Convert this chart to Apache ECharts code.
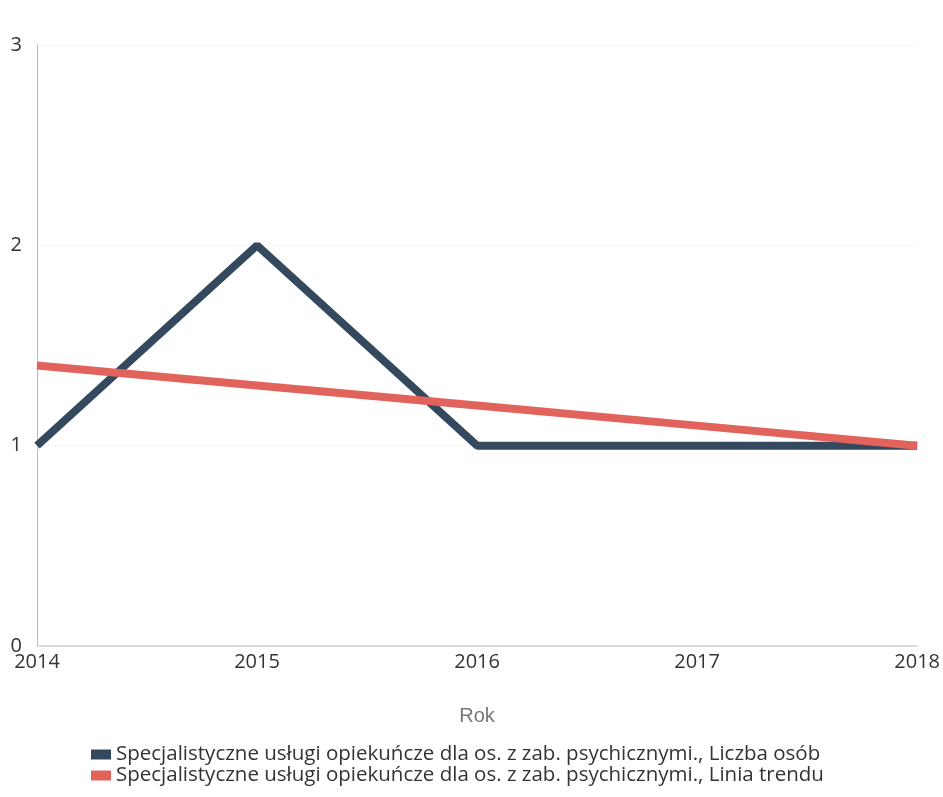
<!DOCTYPE html>
<html>
<head>
<meta charset="utf-8">
<script src="https://cdn.jsdelivr.net/npm/echarts@6/dist/echarts.min.js"></script>
<style>
html,body{margin:0;padding:0;background:#fff;}
#chart{width:943px;height:797px;}
</style>
</head>
<body>
<div id="chart"></div>
<script>
// dane
var years = ['2014', '2015', '2016', '2017', '2018'];
var liczbaOsob = [1, 2, 1, 1, 1];
var liniaTrendu = [1.4, 1.3, 1.2, 1.1, 1.0];
var nazwaOsoby = 'Specjalistyczne usługi opiekuńcze dla os. z zab. psychicznymi., Liczba osób';
var nazwaTrend = 'Specjalistyczne usługi opiekuńcze dla os. z zab. psychicznymi., Linia trendu';

var myChart = echarts.init(document.getElementById('chart'));
var option = {
    backgroundColor: '#fff',
    textStyle: { fontFamily: 'Open Sans' },
    grid: { left: 37, right: 25, top: 45, bottom: 151 },
    legend: {
        left: 86,
        top: 739,
        orient: 'vertical',
        itemGap: 0,
        itemWidth: 20,
        itemHeight: 10,
        icon: 'rect',
        textStyle: { fontSize: 20.5, lineHeight: 21, color: '#333', fontFamily: 'Open Sans' },
        data: [nazwaOsoby, nazwaTrend]
    },
    xAxis: {
        type: 'category',
        boundaryGap: false,
        data: years,
        name: 'Rok',
        nameLocation: 'middle',
        nameGap: 60,
        nameTextStyle: { fontSize: 20, color: '#777', fontFamily: 'Liberation Sans' },
        axisLine: { lineStyle: { color: '#dcdcdc', width: 2 } },
        axisTick: { show: false },
        axisLabel: { fontSize: 20, color: '#333', margin: 6 },
        splitLine: { show: false }
    },
    yAxis: {
        type: 'value',
        min: 0,
        max: 3,
        interval: 1,
        axisLine: { show: true, lineStyle: { color: '#aaa', width: 1, type: 'dotted' } },
        axisTick: { show: false },
        axisLabel: { fontSize: 20, color: '#333', margin: 15 },
        splitLine: { show: true, lineStyle: { color: '#f7f7f7' } }
    },
    series: [
        {
            name: nazwaOsoby,
            type: 'line',
            data: liczbaOsob,
            symbol: 'none',
            color: '#34495e',
            lineStyle: { width: 8, color: '#34495e' }
        },
        {
            name: nazwaTrend,
            type: 'line',
            data: liniaTrendu,
            symbol: 'none',
            color: '#e2635c',
            lineStyle: { width: 8, color: '#e2635c' }
        }
    ]
};
myChart.setOption(option);
</script>
</body>
</html>
